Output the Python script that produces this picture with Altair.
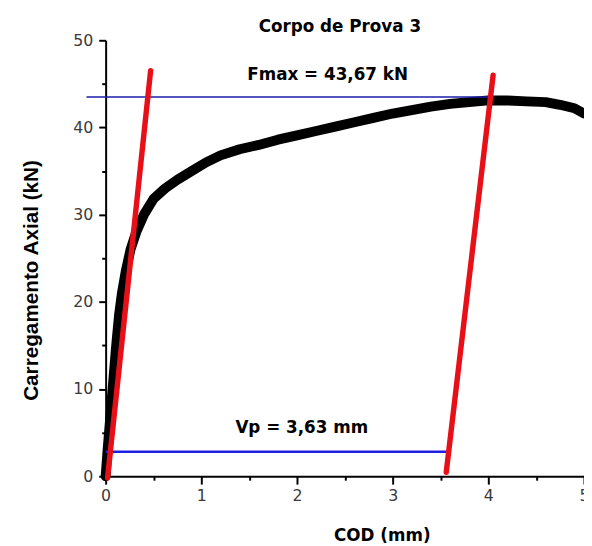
import altair as alt
import pandas as pd

# Load–COD curve
cod = [0, 0.02, 0.05, 0.08, 0.11, 0.14, 0.17, 0.21, 0.26, 0.32, 0.4, 0.5, 0.62, 0.75, 0.9,
       1.05, 1.2, 1.4, 1.6, 1.8, 2.0, 2.2, 2.4, 2.6, 2.8, 3.0, 3.2, 3.4, 3.6, 3.8, 4.0,
       4.2, 4.4, 4.6, 4.75, 4.9, 5.0]
load = [0, 3, 7, 11, 15, 18.5, 21, 23.5, 26, 28, 30, 31.8, 33.0, 34.0, 35.0,
        36.0, 36.8, 37.5, 38.0, 38.6, 39.1, 39.6, 40.1, 40.6, 41.1, 41.6, 42.0, 42.4, 42.7, 42.9, 43.1,
        43.1, 43.0, 42.9, 42.6, 42.2, 41.6]

# red parallel lines (elastic slope)
red_group = ["a", "a", "b", "b"]
red_x = [0.02, 0.47, 3.56, 4.05]
red_y = [-0.2, 46.5, 0.45, 46.0]

# blue reference lines
fmax_x, fmax_x2, fmax_y = [-0.2], [4.05], [43.5]
vp_x, vp_x2, vp_y = [0.0], [3.6], [2.8]

# annotations
ann_text = ["Fmax = 43,67 kN", "Vp = 3,63 mm"]
ann_x = [2.32, 2.05]
ann_y = [45.5, 5.0]

x_ticks = [0, 0.5, 1, 1.5, 2, 2.5, 3, 3.5, 4, 4.5, 5]
y_ticks = [0, 5, 10, 15, 20, 25, 30, 35, 40, 45, 50]

curve_df = pd.DataFrame({"x": cod, "y": load})
red_df = pd.DataFrame({"g": red_group, "x": red_x, "y": red_y})
fmax_df = pd.DataFrame({"x": fmax_x, "x2": fmax_x2, "y": fmax_y})
vp_df = pd.DataFrame({"x": vp_x, "x2": vp_x2, "y": vp_y})
ann_df = pd.DataFrame({"t": ann_text, "x": ann_x, "y": ann_y})

X = alt.X(
    "x:Q",
    title="COD (mm)",
    scale=alt.Scale(domain=[0, 5], nice=False, zero=False),
    axis=alt.Axis(
        values=x_ticks,
        labelExpr="datum.value % 1 === 0 ? format(datum.value, 'd') : ''",
        tickSize={"condition": {"test": "datum.value % 1 === 0", "value": 8}, "value": 4},
        labelPadding=4,
        labelFont="DejaVu Sans",
        labelFontSize=16,
        labelColor="#3a3a3a",
        labelFlush=False,
        titleFont="DejaVu Sans",
        titleFontSize=17,
        titleFontWeight="bold",
        titleColor="black",
        titleX=280,
        titleY=65,
        titleAlign="center",
        titleBaseline="alphabetic",
        grid=False,
    ),
)
Y = alt.Y(
    "y:Q",
    title="Carregamento Axial (kN)",
    scale=alt.Scale(domain=[0, 50], nice=False, zero=False),
    axis=alt.Axis(
        values=y_ticks,
        labelExpr="datum.value % 10 === 0 ? format(datum.value, 'd') : ''",
        tickSize={"condition": {"test": "datum.value % 10 === 0", "value": 7}, "value": 4},
        labelPadding=6,
        labelFont="DejaVu Sans",
        labelFontSize=16,
        labelColor="#3a3a3a",
        labelFlush=False,
        titleFont="Liberation Sans",
        titleFontSize=21,
        titleFontWeight="bold",
        titleColor="black",
        titleX=-69,
        titleY=243,
        titleAngle=270,
        titleAlign="center",
        titleBaseline="alphabetic",
        grid=False,
    ),
)

curve = alt.Chart(curve_df).mark_line(
    color="black", strokeWidth=10, strokeCap="round", strokeJoin="round"
).encode(x=X, y=Y)

fmax_line = alt.Chart(fmax_df).mark_rule(color="#1c1ca8", strokeWidth=1.6).encode(
    x=X, x2="x2:Q", y=Y
)
vp_line = alt.Chart(vp_df).mark_rule(color="#1e1ee0", strokeWidth=2.6).encode(
    x=X, x2="x2:Q", y=Y
)

red = alt.Chart(red_df).mark_line(
    color="#e81018", strokeWidth=5.5, strokeCap="round"
).encode(x=X, y=Y, detail="g:N")

ann = alt.Chart(ann_df).mark_text(
    font="DejaVu Sans", fontSize=17, fontWeight="bold", color="black",
    align="center", baseline="alphabetic"
).encode(x=X, y=Y, text="t:N")

chart = alt.layer(curve, fmax_line, vp_line, red, ann).properties(
    width=485,
    height=442,
    autosize=alt.AutoSizeParams(type="none"),
    padding={"left": 99, "top": 29, "right": 0, "bottom": 67},
    title=alt.TitleParams(
        "Corpo de Prova 3", font="DejaVu Sans", fontSize=17, fontWeight="bold",
        color="black", anchor="middle", dx=-5, dy=24, offset=7, baseline="alphabetic"
    ),
).configure_view(stroke=None).configure_axis(
    domainColor="black", domainWidth=2, tickColor="black", tickWidth=2
)

chart.save("out.html", embed_options={"renderer": "svg", "actions": False})
